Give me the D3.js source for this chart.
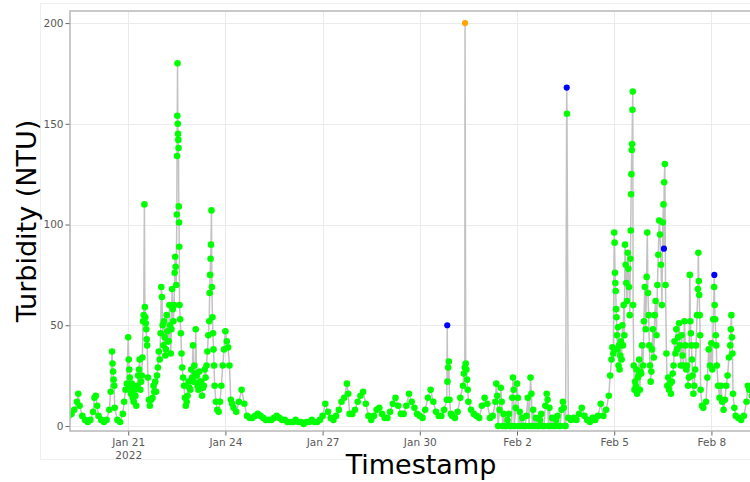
<!DOCTYPE html>
<html>
<head>
<meta charset="utf-8">
<script src="https://cdn.jsdelivr.net/npm/d3@7"></script>
<style>
  body { margin: 0; background: #fff; }
  svg { display: block; font-family: "DejaVu Sans", Verdana, sans-serif; }
</style>
</head>
<body>
<svg id="chart" width="750" height="482"></svg>
<script>
// Turbidity readings, one entry every 2 hours from 00:00 of each day.
// An entry that is a list holds several readings inside that 2 hour slot.
const jan19 = [4, 4, 5, 6, 8, [12, 16], 10, 5, 3, 2, 3, [7, 14]];
const jan20 = [[15, 10], 5, 3, 2, 3, [8, 17], [37, 31, 27, 23, 20], 9, 3, 2, [6, 12], [18, 21]];
const jan21 = [[44, 33, 28, 24, 19], [16, 21, 14], [12, 18, 15], [10, 20, 25], [28, 33, 18, 22], [25, 34, 52, 55], [110, 59, 54, 51, 48, 43], [40, 24, 13], [10, 13], [14, 20, 17], [22, 17, 25], [29, 37, 33]];
const jan22 = [[46, 69, 64, 50], [40, 52, 44, 35], [38, 55, 47, 42], [42, 60, 50, 36], [48, 68, 58, 52], [60, 76, 84, 79, 70], [105, 134, 154, 180, 150, 145, 142, 138, 109, 101, 89], [60, 53, 46, 36], [29, 24, 20], [14, 10, 12], [15, 22, 19], [18, 28, 24]];
const jan23 = [[40, 22, 30, 26], [48, 25, 20], [18, 27, 22], [22, 15, 19], [20, 28, 24], [30, 37, 45], [52, 66, 75, 83, 90, 107], [69, 54, 46, 38, 30], [20, 12], [8, 7], [12, 20], [30, 38]];
const jan24 = [[47, 42], [39, 30], [13, 11], 9, 7, 12, 18, 11, 5, 4, 4, 5];
const jan25 = [6, 5, 4, 3, 3, 3, 4, 5, 4, 3, 3, 2];
const jan26 = [2, 2, 3, 2, 2, 1, 2, 2, 3, 2, 2, 3];
const jan27 = [5, 11, 7, 4, 3, 5, 8, 12, 14, [21, 16], 6, 6];
const jan28 = [8, 12, 15, 17, 11, 5, 3, 5, 8, 9, 6, 4];
const jan29 = [4, 7, 11, 14, 10, 6, 6, 10, 16, 12, 9, 6];
const jan30 = [5, 4, 8, 14, 18, 12, 7, 5, 5, 8, [13, 22, 29, 32], [13, 6]];
const jan31 = [5, 4, 7, 14, [20, 26, 29], [31, 28, 23, 18], 12, 8, 6, 5, 4, 10];
const feb01 = [14, 11, 4, 5, [12, 21, 15], [0, 8], [19, 12, 0], [6, 0], [0, 3], [6, 0], [0, 14, 24, 18], [0, 9]];
const feb02 = [[21, 14, 0], [7, 0], [4, 0], [0, 5], [14, 0], [24, 16, 0], [8, 0], [4, 0], [0, 3], [6, 0], [0, 10], [16, 13, 0]];
const feb03 = [[9, 0], [4, 0], [0, 3], [5, 0], [0, 8], [12, 9, 0], [0, 155], 4, 3, 4, 3, 6];
const feb04 = [9, 5, 3, 2, 4, 3, 5, 11, 5, 8, [15, 25], [33, 39, 36]];
const feb05 = [[96, 91, 76, 71, 67, 58, 54], [45, 38, 49, 30, 40], [28, 35, 42, 33], [50, 40, 60, 45], [90, 80, 71, 62], [86, 78, 69, 55], [83, 97, 115, 125, 137, 140, 157, 166], [60, 30, 18, 22], [20, 28, 16, 24], [25, 33, 18, 27], [26, 40, 30], [52, 69, 48]];
const feb06 = [[74, 96, 66, 55], [40, 30, 22, 27], [38, 48, 34], [55, 62, 45], [70, 85, 102], [95, 80, 60], [101, 110, 121, 130], [70, 36, 20], [24, 18, 21], [16, 22, 26], [30, 42, 36], [48, 38, 44]];
const feb07 = [[51, 40, 30], [45, 35, 30], [52, 40, 28], [30, 20, 24], [75, 52, 46, 40, 33], [25, 16, 20], [28, 40, 55], [68, 86, 72, 65, 55, 45], [18, 10], 9, [12, 24], [38, 30]];
const feb08 = [[41, 28, 53], [69, 60, 53, 45, 40], [30, 20], [14, 20], [12, 8], [13, 20], [25, 34], [40, 48, 55, 44, 36], [16, 9], 5, 4, 3];
const feb09 = [5, [12, 20], 18, 15, 12, 9];

const dayStarts = ["2022-01-19", "2022-01-20", "2022-01-21", "2022-01-22", "2022-01-23", "2022-01-24",
  "2022-01-25", "2022-01-26", "2022-01-27", "2022-01-28", "2022-01-29", "2022-01-30", "2022-01-31",
  "2022-02-01", "2022-02-02", "2022-02-03", "2022-02-04", "2022-02-05", "2022-02-06", "2022-02-07",
  "2022-02-08", "2022-02-09"];
const dayValues = [jan19, jan20, jan21, jan22, jan23, jan24, jan25, jan26, jan27, jan28, jan29, jan30,
  jan31, feb01, feb02, feb03, feb04, feb05, feb06, feb07, feb08, feb09];

// flagged readings (drawn in their own colours)
const flagTimes = ["2022-01-30T20:20", "2022-01-31T09:30", "2022-02-03T12:50", "2022-02-06T12:50", "2022-02-08T02:10"];
const flagValues = [50, 200, 168, 88, 75];
const flagKinds = ["suspect", "extreme", "suspect", "suspect", "suspect"];

const yTicks = [0, 50, 100, 150, 200];
const xTickDates = ["2022-01-21", "2022-01-24", "2022-01-27", "2022-01-30", "2022-02-02", "2022-02-05", "2022-02-08"];

const kindColor = { normal: "#00ff00", suspect: "#0000ff", extreme: "#ffa500" };

const parseDay = d3.timeParse("%Y-%m-%d");
const parseTime = d3.timeParse("%Y-%m-%dT%H:%M");
const stepMs = 2 * 3600 * 1000;

// flatten the readings
const readings = [];
dayStarts.forEach((day, di) => {
  const t0 = parseDay(day).getTime();
  dayValues[di].forEach((v, i) => {
    const slot = Array.isArray(v) ? v : [v];
    slot.forEach((val, j) => {
      readings.push({ t: new Date(t0 + i * stepMs + j * stepMs / slot.length), v: val, kind: "normal" });
    });
  });
});
flagTimes.forEach((s, i) => readings.push({ t: parseTime(s), v: flagValues[i], kind: flagKinds[i] }));
readings.sort((a, b) => a.t - b.t);

// plot area (right edge runs past the window, like the original crop)
const plot = { left: 70, top: 11, right: 772, bottom: 431 };

const x = d3.scaleTime()
  .domain([parseTime("2022-01-19T04:53"), parseTime("2022-02-09T20:53")])
  .range([plot.left, plot.right]);
const y = d3.scaleLinear().domain([-2.5, 206]).range([plot.bottom, plot.top]);

const svg = d3.select("#chart");

// faint outer panel
svg.append("rect")
  .attr("x", 40.5).attr("y", 3.5)
  .attr("width", 760).attr("height", 456)
  .attr("fill", "#fff").attr("stroke", "#efefef");

svg.append("defs").append("clipPath").attr("id", "clip")
  .append("rect")
  .attr("x", plot.left).attr("y", plot.top)
  .attr("width", plot.right - plot.left).attr("height", plot.bottom - plot.top);

// grid
const grid = svg.append("g").attr("stroke", "#ebebeb").attr("stroke-width", 1);
grid.selectAll(".gy").data(yTicks).join("line")
  .attr("x1", plot.left).attr("x2", plot.right)
  .attr("y1", d => Math.round(y(d)) + 0.5).attr("y2", d => Math.round(y(d)) + 0.5);
grid.selectAll(".gx").data(xTickDates.map(parseDay)).join("line")
  .attr("y1", plot.top).attr("y2", plot.bottom)
  .attr("x1", d => Math.round(x(d)) + 0.5).attr("x2", d => Math.round(x(d)) + 0.5);

// data
const g = svg.append("g").attr("clip-path", "url(#clip)");

const line = d3.line().x(d => x(d.t)).y(d => y(d.v));
g.append("path")
  .datum(readings)
  .attr("d", line)
  .attr("fill", "none")
  .attr("stroke", "#c2c2c2")
  .attr("stroke-width", 1.5);

g.selectAll(".pt").data(readings.filter(d => d.kind === "normal")).join("circle")
  .attr("cx", d => x(d.t)).attr("cy", d => y(d.v))
  .attr("r", 3.3).attr("fill", kindColor.normal);

g.selectAll(".flag").data(readings.filter(d => d.kind !== "normal")).join("circle")
  .attr("cx", d => x(d.t)).attr("cy", d => y(d.v))
  .attr("r", 3.1).attr("fill", d => kindColor[d.kind]);

// frame
svg.append("rect")
  .attr("x", plot.left).attr("y", plot.top)
  .attr("width", plot.right - plot.left).attr("height", plot.bottom - plot.top)
  .attr("fill", "none").attr("stroke", "#bcbcbc").attr("stroke-width", 1.6);

// axes
const yAxis = svg.append("g")
  .attr("transform", `translate(${plot.left - 0.5},0)`)
  .call(d3.axisLeft(y).tickValues(yTicks).tickSize(4).tickPadding(2));
const xAxis = svg.append("g")
  .attr("transform", `translate(0,${plot.bottom + 0.5})`)
  .call(d3.axisBottom(x).tickValues(xTickDates.map(parseDay)).tickSize(4).tickPadding(3)
    .tickFormat(d3.timeFormat("%b %-d")));

[yAxis, xAxis].forEach(a => {
  a.select(".domain").remove();
  a.selectAll(".tick line").attr("stroke", "#666");
  a.selectAll(".tick text").attr("fill", "#595959")
    .style("font-family", '"DejaVu Sans", Verdana, sans-serif').style("font-size", "10.5px");
});

xAxis.select(".tick text").append("tspan")
  .attr("x", 0).attr("dy", "1.25em").text("2022");

// titles
svg.append("text")
  .attr("x", (plot.left + plot.right) / 2).attr("y", 474)
  .attr("text-anchor", "middle")
  .style("font-size", "27px").attr("fill", "#000")
  .text("Timestamp");

svg.append("text")
  .attr("transform", `translate(36,${(plot.top + plot.bottom) / 2}) rotate(-90)`)
  .attr("text-anchor", "middle")
  .style("font-size", "27px").attr("fill", "#000")
  .text("Turbidity (NTU)");
</script>
</body>
</html>
